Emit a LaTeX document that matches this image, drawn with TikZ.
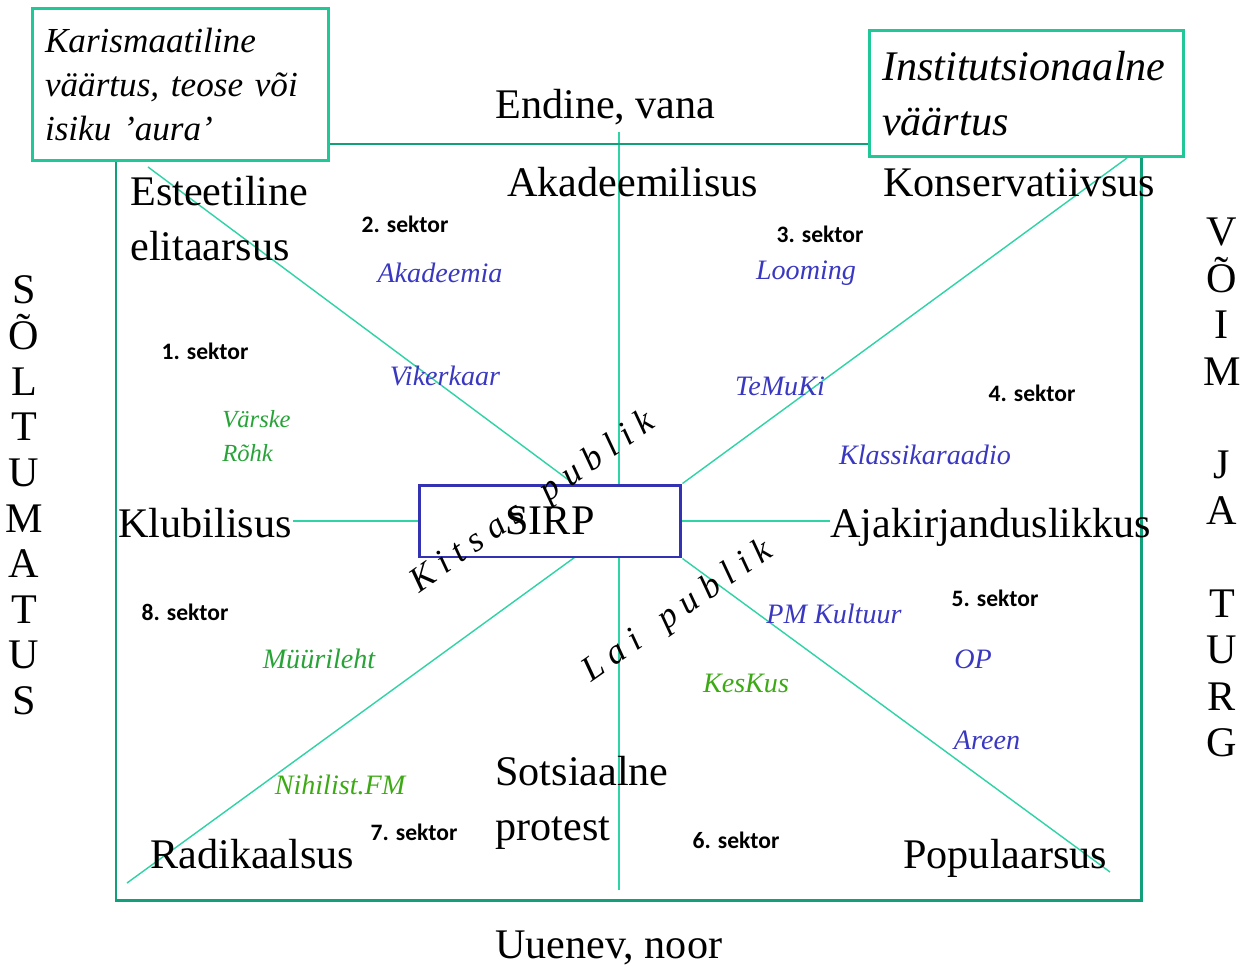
\documentclass[tikz,border=0pt]{standalone}
\usepackage{fontspec}
\setmainfont{Liberation Serif}
\newfontfamily\sektorfont{Carlito}
\usetikzlibrary{backgrounds}

\definecolor{rim}{HTML}{12A07A}
\definecolor{boxrim}{HTML}{1FC896}
\definecolor{axis}{HTML}{2ED3A6}
\definecolor{sirpblue}{HTML}{3232B2}
\definecolor{nameblue}{HTML}{3A38C0}
\definecolor{namegreen}{HTML}{27A337}
\definecolor{limegreen}{HTML}{3DAA15}

\begin{document}
\begin{tikzpicture}[x=0.02cm,y=-0.02cm,
	pole/.style={font=\fontsize{24}{31.5}\selectfont,inner sep=0pt,anchor=base west},
	twoline/.style={font=\fontsize{24}{31.5}\selectfont,inner sep=0pt,anchor=north west,align=left},
	vletter/.style={font=\fontsize{24}{28}\selectfont,inner sep=0pt,anchor=base},
	sektor/.style={font=\sektorfont\bfseries\fontsize{13.4}{16}\selectfont,inner sep=0pt},
	ajakiri/.style={font=\itshape\fontsize{16}{19}\selectfont,text=nameblue,inner sep=0pt},
	alternatiiv/.style={font=\itshape\fontsize{16}{19}\selectfont,text=namegreen,inner sep=0pt},
	publik/.style={font=\itshape\fontsize{20}{24}\selectfont,inner sep=0pt,rotate=35},
	axisline/.style={draw=axis,line width=0.8pt},
	valuebox/.style={draw=boxrim,line width=1.7pt,fill=white,align=left,inner xsep=0.26cm,inner ysep=0pt}
	]
	\useasboundingbox (0,0) rectangle (1250,969);

	% outer frame
	\draw[rim,line width=1.7pt] (116,144) rectangle (1141,900);

	% the two value boxes
	\node[valuebox,text width=5.42cm,minimum height=3.06cm,font=\itshape\fontsize{20}{25}\selectfont] (karisma) at (180.5,84.5)
		{Karismaatiline\\väärtus, teose või\\isiku ’aura’};
	\node[valuebox,text width=5.78cm,minimum height=2.54cm,font=\itshape\fontsize{24}{31.3}\selectfont] (institut) at (1026.5,93.5)
		{Institutsionaalne\\väärtus};

	% centre
	\node[draw=sirpblue,line width=1.7pt,fill=white,minimum width=5.24cm,minimum height=1.44cm,
		font=\fontsize{24}{28}\selectfont] (sirp) at (550,521) {SIRP};

	% axes and diagonals
	\coordinate (vtop) at (619,132);
	\coordinate (vbot) at (619,890);
	\coordinate (hleft) at (293,521);
	\coordinate (hright) at (830,521);
	\coordinate (ultip) at (148,167);
	\coordinate (ulin) at (582,490);
	\coordinate (urtip) at (1127,158);
	\coordinate (lltip) at (127,883);
	\coordinate (llin) at (582,552);
	\coordinate (lrtip) at (1110,872);
	\begin{pgfonlayer}{background}
		\draw[axisline] (vtop) -- (vbot);
		\draw[axisline] (hleft) -- (sirp.west);
		\draw[axisline] (sirp.east) -- (hright);
		\draw[axisline] (ultip) -- (ulin);
		\draw[axisline] (urtip) -- (sirp.north east);
		\draw[axisline] (lltip) -- (llin);
		\draw[axisline] (sirp.south east) -- (lrtip);
	\end{pgfonlayer}

	% poles
	\node[pole] (endine) at (495,119) {Endine, vana};
	\node[pole] (akad) at (507,197) {Akadeemilisus};
	\node[pole] (konserv) at (883,197) {Konservatiivsus};
	\node[twoline] (esteet) at (130,176) {Esteetiline\\elitaarsus};
	\node[pole] (klubi) at (118,537) {Klubilisus};
	\node[pole] (ajakirj) at (830,537) {Ajakirjanduslikkus};
	\node[twoline] (sotsiaal) at (495,756) {Sotsiaalne\\protest};
	\node[pole] (radikaal) at (150,868) {Radikaalsus};
	\node[pole] (popul) at (903,868) {Populaarsus};
	\node[pole] (uuenev) at (495,958) {Uuenev, noor};

	% side words
	\foreach \ch [count=\k from 0] in {S,Õ,L,T,U,M,A,T,U,S}
		\node[vletter] (sol\k) at (24,304+45.6*\k) {\ch};
	\foreach \ch/\k in {V/0,Õ/1,I/2,M/3,J/5,A/6,T/8,U/9,R/10,G/11}
		\node[vletter] (voim\k) at (1222,246+46.4*\k) {\ch};

	% publik
	\node[publik] (kitsas) at (533,503) {K i t s a s \ \ p u b l i k};
	\node[publik] (lai) at (678,612) {L a i \ \ p u b l i k};

	% sectors
	\node[sektor] (s1) at (205,351) {1. sektor};
	\node[sektor] (s2) at (405,224) {2. sektor};
	\node[sektor] (s3) at (820,234) {3. sektor};
	\node[sektor] (s4) at (1032,393) {4. sektor};
	\node[sektor] (s5) at (995,598) {5. sektor};
	\node[sektor] (s6) at (736,840) {6. sektor};
	\node[sektor] (s7) at (414,832) {7. sektor};
	\node[sektor] (s8) at (185,612) {8. sektor};

	% publications
	\node[ajakiri] (akadeemia) at (440,273) {Akadeemia};
	\node[ajakiri] (looming) at (806,273) {Looming};
	\node[ajakiri] (vikerkaar) at (445,376) {Vikerkaar};
	\node[ajakiri] (temuki) at (780,386) {TeMuKi};
	\node[ajakiri] (klassika) at (925,455) {Klassikaraadio};
	\node[ajakiri] (pmkultuur) at (834,614) {PM Kultuur};
	\node[ajakiri] (op) at (973,659) {OP};
	\node[ajakiri] (areen) at (987,740) {Areen};
	\node[alternatiiv,font=\itshape\fontsize{14}{19.3}\selectfont,align=left,anchor=west] (varske) at (222,436) {Värske\\Rõhk};
	\node[alternatiiv] (muurileht) at (319,659) {Müürileht};
	\node[alternatiiv,text=limegreen] (nihilist) at (340,785) {Nihilist.FM};
	\node[alternatiiv,text=limegreen] (keskus) at (746,683) {KesKus};
\end{tikzpicture}
\end{document}
